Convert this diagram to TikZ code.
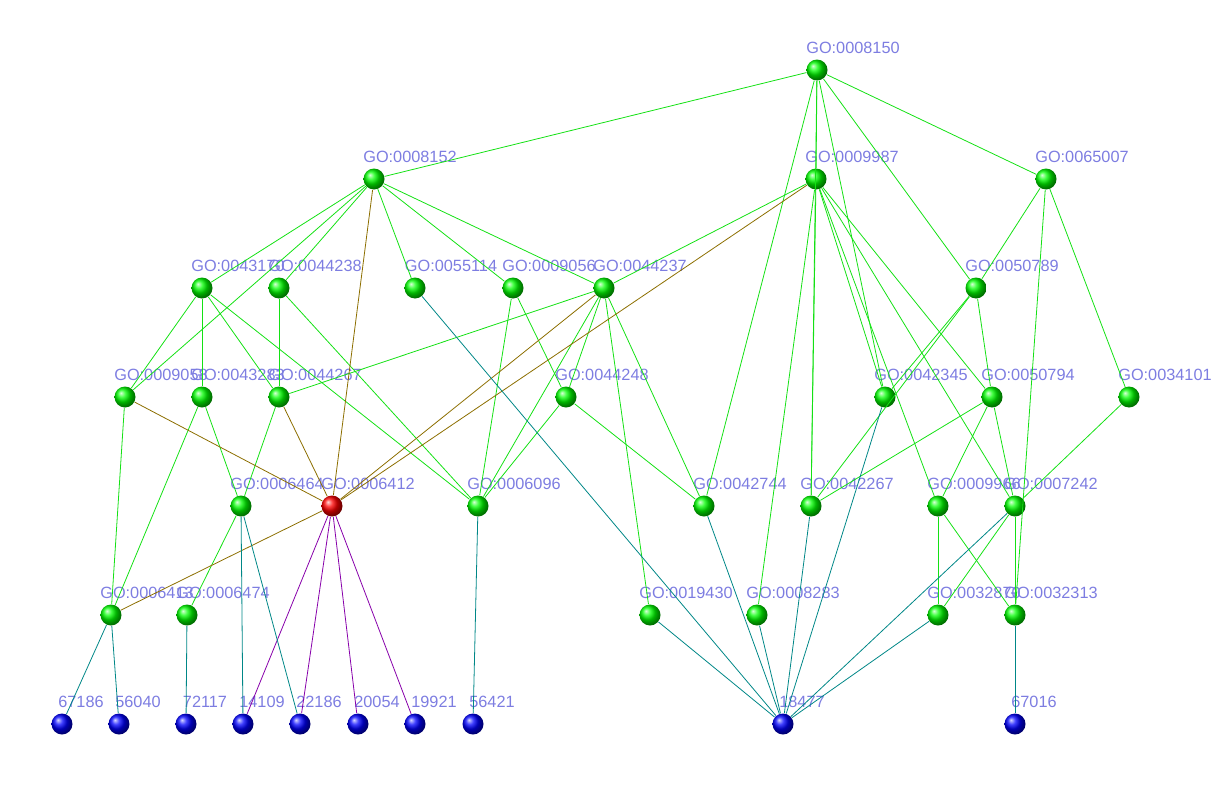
\documentclass[tikz,border=0pt]{standalone}
\usepackage{fontspec}
\setmainfont{Liberation Sans}
\usepackage{tikz}

\definecolor{edgegg}{RGB}{20,225,20}
\definecolor{edgegr}{RGB}{140,110,0}
\definecolor{edgegb}{RGB}{0,135,135}
\definecolor{edgerb}{RGB}{135,0,170}
\definecolor{lblblue}{RGB}{125,125,225}

\begin{document}
\begin{tikzpicture}[x=1pt, y=-1pt, line width=0.8pt]
  \tikzstyle{term}=[circle, ball color=green, minimum size=21pt, inner sep=0pt]
  \tikzstyle{hit}=[term, ball color=red]
  \tikzstyle{gene}=[term, ball color=blue]
  \tikzstyle{lbl}=[inner sep=0pt, text=lblblue, font=\fontsize{16.3}{18}\selectfont, yshift=22.4pt]
  \tikzstyle{golbl}=[lbl, xshift=36pt]
  \tikzstyle{genelbl}=[lbl, xshift=19pt]
  \tikzstyle{gg}=[draw=edgegg]
  \tikzstyle{gr}=[draw=edgegr]
  \tikzstyle{gb}=[draw=edgegb]
  \tikzstyle{rb}=[draw=edgerb]
  \useasboundingbox (0,0) rectangle (1219,795);
  % GO terms, row by row
  \node[term, label={[golbl]center:GO:0008150}] (G_0008150) at (817,70) {};
  \node[term, label={[golbl]center:GO:0008152}] (G_0008152) at (374,179) {};
  \node[term, label={[golbl]center:GO:0009987}] (G_0009987) at (816,179) {};
  \node[term, label={[golbl]center:GO:0065007}] (G_0065007) at (1046,179) {};
  \node[term, label={[golbl]center:GO:0043170}] (G_0043170) at (202,288) {};
  \node[term, label={[golbl]center:GO:0044238}] (G_0044238) at (279,288) {};
  \node[term, label={[golbl]center:GO:0055114}] (G_0055114) at (415,288) {};
  \node[term, label={[golbl]center:GO:0009056}] (G_0009056) at (513,288) {};
  \node[term, label={[golbl]center:GO:0044237}] (G_0044237) at (604,288) {};
  \node[term, label={[golbl]center:GO:0050789}] (G_0050789) at (976,288) {};
  \node[term, label={[golbl]center:GO:0009058}] (G_0009058) at (125,397) {};
  \node[term, label={[golbl]center:GO:0043283}] (G_0043283) at (202,397) {};
  \node[term, label={[golbl]center:GO:0044267}] (G_0044267) at (279,397) {};
  \node[term, label={[golbl]center:GO:0044248}] (G_0044248) at (566,397) {};
  \node[term, label={[golbl]center:GO:0042345}] (G_0042345) at (885,397) {};
  \node[term, label={[golbl]center:GO:0050794}] (G_0050794) at (992,397) {};
  \node[term, label={[golbl]center:GO:0034101}] (G_0034101) at (1129,397) {};
  \node[term, label={[golbl]center:GO:0006464}] (G_0006464) at (241,506) {};
  \node[hit,  label={[golbl]center:GO:0006412}] (G_0006412) at (332,506) {};
  \node[term, label={[golbl]center:GO:0006096}] (G_0006096) at (478,506) {};
  \node[term, label={[golbl]center:GO:0042744}] (G_0042744) at (704,506) {};
  \node[term, label={[golbl]center:GO:0042267}] (G_0042267) at (811,506) {};
  \node[term, label={[golbl]center:GO:0009966}] (G_0009966) at (938,506) {};
  \node[term, label={[golbl]center:GO:0007242}] (G_0007242) at (1015,506) {};
  \node[term, label={[golbl]center:GO:0006413}] (G_0006413) at (111,615) {};
  \node[term, label={[golbl]center:GO:0006474}] (G_0006474) at (187,615) {};
  \node[term, label={[golbl]center:GO:0019430}] (G_0019430) at (650,615) {};
  \node[term, label={[golbl]center:GO:0008283}] (G_0008283) at (757,615) {};
  \node[term, label={[golbl]center:GO:0032870}] (G_0032870) at (938,615) {};
  \node[term, label={[golbl]center:GO:0032313}] (G_0032313) at (1015,615) {};
  % genes
  \node[gene, label={[genelbl]center:67186}] (E_67186) at (62,724) {};
  \node[gene, label={[genelbl]center:56040}] (E_56040) at (119,724) {};
  \node[gene, label={[genelbl]center:72117}] (E_72117) at (186,724) {};
  \node[gene, label={[genelbl]center:14109}] (E_14109) at (243,724) {};
  \node[gene, label={[genelbl]center:22186}] (E_22186) at (300,724) {};
  \node[gene, label={[genelbl]center:20054}] (E_20054) at (358,724) {};
  \node[gene, label={[genelbl]center:19921}] (E_19921) at (415,724) {};
  \node[gene, label={[genelbl]center:56421}] (E_56421) at (473,724) {};
  \node[gene, label={[genelbl]center:18477}] (E_18477) at (783,724) {};
  \node[gene, label={[genelbl]center:67016}] (E_67016) at (1015,724) {};
  % term to term
  \draw[gg] (G_0008150) -- (G_0008152);
  \draw[gg] (G_0008150) -- (G_0009987);
  \draw[gg] (G_0008150) -- (G_0065007);
  \draw[gg] (G_0008150) -- (G_0050789);
  \draw[gg] (G_0008150) -- (G_0042345);
  \draw[gg] (G_0008150) -- (G_0042744);
  \draw[gg] (G_0008150) -- (G_0042267);
  \draw[gg] (G_0008152) -- (G_0043170);
  \draw[gg] (G_0008152) -- (G_0009058);
  \draw[gg] (G_0008152) -- (G_0044238);
  \draw[gg] (G_0008152) -- (G_0055114);
  \draw[gg] (G_0008152) -- (G_0009056);
  \draw[gg] (G_0008152) -- (G_0044237);
  \draw[gg] (G_0009987) -- (G_0044237);
  \draw[gg] (G_0009987) -- (G_0008283);
  \draw[gg] (G_0009987) -- (G_0042267);
  \draw[gg] (G_0009987) -- (G_0042345);
  \draw[gg] (G_0009987) -- (G_0009966);
  \draw[gg] (G_0009987) -- (G_0050794);
  \draw[gg] (G_0009987) -- (G_0007242);
  \draw[gg] (G_0065007) -- (G_0050789);
  \draw[gg] (G_0065007) -- (G_0034101);
  \draw[gg] (G_0065007) -- (G_0032313);
  \draw[gg] (G_0043170) -- (G_0009058);
  \draw[gg] (G_0043170) -- (G_0043283);
  \draw[gg] (G_0043170) -- (G_0044267);
  \draw[gg] (G_0043170) -- (G_0006096);
  \draw[gg] (G_0044238) -- (G_0044267);
  \draw[gg] (G_0044238) -- (G_0006096);
  \draw[gg] (G_0009056) -- (G_0044248);
  \draw[gg] (G_0009056) -- (G_0006096);
  \draw[gg] (G_0044237) -- (G_0044267);
  \draw[gg] (G_0044237) -- (G_0044248);
  \draw[gg] (G_0044237) -- (G_0006096);
  \draw[gg] (G_0044237) -- (G_0019430);
  \draw[gg] (G_0044237) -- (G_0042744);
  \draw[gg] (G_0050789) -- (G_0042345);
  \draw[gg] (G_0050789) -- (G_0042267);
  \draw[gg] (G_0050789) -- (G_0050794);
  \draw[gg] (G_0009058) -- (G_0006413);
  \draw[gg] (G_0043283) -- (G_0006413);
  \draw[gg] (G_0043283) -- (G_0006464);
  \draw[gg] (G_0044267) -- (G_0006464);
  \draw[gg] (G_0044248) -- (G_0006096);
  \draw[gg] (G_0044248) -- (G_0042744);
  \draw[gg] (G_0050794) -- (G_0042267);
  \draw[gg] (G_0050794) -- (G_0009966);
  \draw[gg] (G_0050794) -- (G_0007242);
  \draw[gg] (G_0034101) -- (G_0007242);
  \draw[gg] (G_0006464) -- (G_0006474);
  \draw[gg] (G_0009966) -- (G_0032870);
  \draw[gg] (G_0009966) -- (G_0032313);
  \draw[gg] (G_0007242) -- (G_0032870);
  \draw[gg] (G_0007242) -- (G_0032313);
  % into and out of the red term
  \draw[gr] (G_0008152) -- (G_0006412);
  \draw[gr] (G_0009987) -- (G_0006412);
  \draw[gr] (G_0044237) -- (G_0006412);
  \draw[gr] (G_0009058) -- (G_0006412);
  \draw[gr] (G_0044267) -- (G_0006412);
  \draw[gr] (G_0006412) -- (G_0006413);
  \draw[rb] (G_0006412) -- (E_14109);
  \draw[rb] (G_0006412) -- (E_22186);
  \draw[rb] (G_0006412) -- (E_20054);
  \draw[rb] (G_0006412) -- (E_19921);
  % term to gene
  \draw[gb] (G_0006413) -- (E_67186);
  \draw[gb] (G_0006413) -- (E_56040);
  \draw[gb] (G_0006474) -- (E_72117);
  \draw[gb] (G_0006464) -- (E_14109);
  \draw[gb] (G_0006464) -- (E_22186);
  \draw[gb] (G_0006096) -- (E_56421);
  \draw[gb] (G_0055114) -- (E_18477);
  \draw[gb] (G_0019430) -- (E_18477);
  \draw[gb] (G_0042744) -- (E_18477);
  \draw[gb] (G_0008283) -- (E_18477);
  \draw[gb] (G_0042267) -- (E_18477);
  \draw[gb] (G_0042345) -- (E_18477);
  \draw[gb] (G_0007242) -- (E_18477);
  \draw[gb] (G_0032870) -- (E_18477);
  \draw[gb] (G_0032313) -- (E_67016);
\end{tikzpicture}
\end{document}
